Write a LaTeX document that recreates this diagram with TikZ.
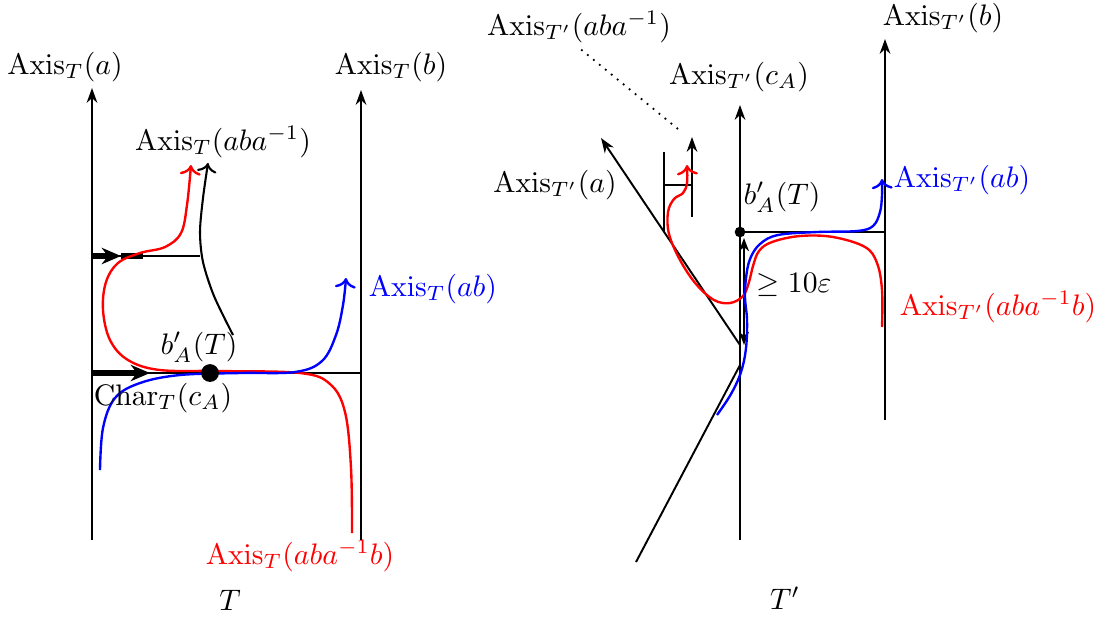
\documentclass[tikz,border=0pt]{standalone}
\usetikzlibrary{arrows.meta}
\begin{document}
\begin{tikzpicture}[x=0.337pt,y=-0.337pt,
  axis/.style={line width=0.65pt,-{Stealth[length=5pt,width=3.6pt]}},
  plainline/.style={line width=0.65pt},
  curve/.style={line width=0.8pt,->},
  thickbar/.style={line width=2pt},
  lbl/.style={inner sep=0pt}]
\useasboundingbox (0,0) rectangle (1097,617);
% ---------- left tree T ----------
\coordinate (a0) at (92,540); \coordinate (a1) at (92,88);
\coordinate (b0) at (361,540); \coordinate (b1) at (361,90);
\coordinate (h1l) at (92,373); \coordinate (h1r) at (361,373);
\coordinate (h2l) at (92,256); \coordinate (h2r) at (200,256);
\draw[axis] (a0) -- (a1);
\draw[axis] (b0) -- (b1);
\draw[plainline] (h1l) -- (h1r);
\draw[plainline] (h2l) -- (h2r);
\coordinate (t1) at (150,373);
\draw[thickbar,-{Stealth[length=6.5pt,width=5.5pt]}] (h1l) -- (t1);
\coordinate (t2) at (121,256); \coordinate (t3) at (143,256);
\draw[thickbar,-{Stealth[length=6.5pt,width=5.5pt]}] (h2l) -- (t2);
\draw[thickbar] (t2) -- (t3);
% black curve
\draw[curve,black,line width=0.7pt] plot[smooth] coordinates {(233,335) (214,296) (203,262) (200,232) (203,198) (208,163)};
% red curve
\draw[curve,red] plot[smooth,tension=0.6] coordinates {(352,533) (351,468) (345,412) (330,384) (300,373) (220,371) (160,370) (128,360) (110,340) (103,310) (106,282) (118,263) (140,253) (165,247) (181,233) (187,205) (191,165)};
% blue curve
\draw[curve,blue] plot[smooth,tension=0.6] coordinates {(100,470) (103,428) (115,398) (140,383) (180,375) (240,373) (295,372) (322,361) (336,335) (343,305) (346,278)};
\node[circle,fill=black,inner sep=0pt,minimum size=6pt] (dotL) at (210,373) {};
% labels
\node[lbl] (LaxA) at (65,67) {$\mathrm{Axis}_T(a)$};
\node[lbl] (LaxB) at (391,67) {$\mathrm{Axis}_T(b)$};
\node[lbl] (LaxABA) at (223,142) {$\mathrm{Axis}_T(aba^{-1})$};
\node[lbl,text=blue] (LaxAB) at (433,289) {$\mathrm{Axis}_T(ab)$};
\node[lbl] (Lbp) at (199,347) {$b'_A(T)$};
\node[lbl] (Lchar) at (163,398) {$\mathrm{Char}_T(c_A)$};
\node[lbl,text=red] (LaxABAB) at (300,556) {$\mathrm{Axis}_T(aba^{-1}b)$};
\node[lbl] (LT) at (230,600) {$T$};
% ---------- right tree T' ----------
\coordinate (c0) at (740,540); \coordinate (c1) at (740,105);
\coordinate (d0) at (885,420); \coordinate (d1) at (885,39);
\coordinate (g0) at (740,232); \coordinate (g1) at (885,232);
\draw[axis] (c0) -- (c1);
\draw[axis] (d0) -- (d1);
\draw[plainline] (g0) -- (g1);
\coordinate (e0) at (740,345); \coordinate (e1) at (601,138);
\draw[axis] (e0) -- (e1);
\coordinate (f0) at (740,365); \coordinate (f1) at (636,562);
\draw[plainline] (f0) -- (f1);
\coordinate (s0) at (664,232); \coordinate (s1) at (664,152);
\coordinate (s2) at (664,185); \coordinate (s3) at (692,185);
\coordinate (s4) at (692,217); \coordinate (s5) at (692,137);
\draw[plainline] (s0) -- (s1);
\draw[plainline] (s2) -- (s3);
\draw[axis] (s4) -- (s5);
\coordinate (p0) at (678,129); \coordinate (p1) at (578,47);
\draw[dotted,line width=0.6pt] (p0) -- (p1);
% distance arrow
\coordinate (m0) at (744,238); \coordinate (m1) at (744,345);
\draw[line width=0.6pt,{Stealth[length=4.5pt,width=3.4pt]}-{Stealth[length=4.5pt,width=3.4pt]}] (m1) -- (m0);
% red curve T'
\draw[curve,red] plot[smooth,tension=0.6] coordinates {(882,327) (882,290) (877,263) (865,247) (833,237) (800,236) (772,242) (759,251) (753,266) (749,282) (743,296) (730,303) (714,300) (696,284) (680,260) (669,234) (668,212) (674,199) (683,193) (687,183) (687,165)};
% blue curve T'
\draw[curve,blue] plot[smooth,tension=0.6] coordinates {(717,415) (731,394) (741,372) (746,348) (747,320) (745,298) (746,278) (750,259) (760,244) (778,235) (817,232) (857,231) (873,226) (880,212) (882,195) (882,179)};
\node[circle,fill=black,inner sep=0pt,minimum size=3.6pt] (dotR) at (g0) {};
% labels
\node[lbl] (RaxABA) at (579,27) {$\mathrm{Axis}_{T'}(aba^{-1})$};
\node[lbl] (RaxC) at (739,77) {$\mathrm{Axis}_{T'}(c_A)$};
\node[lbl] (RaxA) at (555,185) {$\mathrm{Axis}_{T'}(a)$};
\node[lbl] (Rbp) at (782,197) {$b'_A(T)$};
\node[lbl] (RaxB) at (943,18) {$\mathrm{Axis}_{T'}(b)$};
\node[lbl,text=blue] (RaxAB) at (962,180) {$\mathrm{Axis}_{T'}(ab)$};
\node[lbl] (Rdist) at (794,285) {$\geq 10\varepsilon$};
\node[lbl,text=red] (RaxABAB) at (998,307) {$\mathrm{Axis}_{T'}(aba^{-1}b)$};
\node[lbl] (LTp) at (785,598) {$T'$};
\end{tikzpicture}
\end{document}
